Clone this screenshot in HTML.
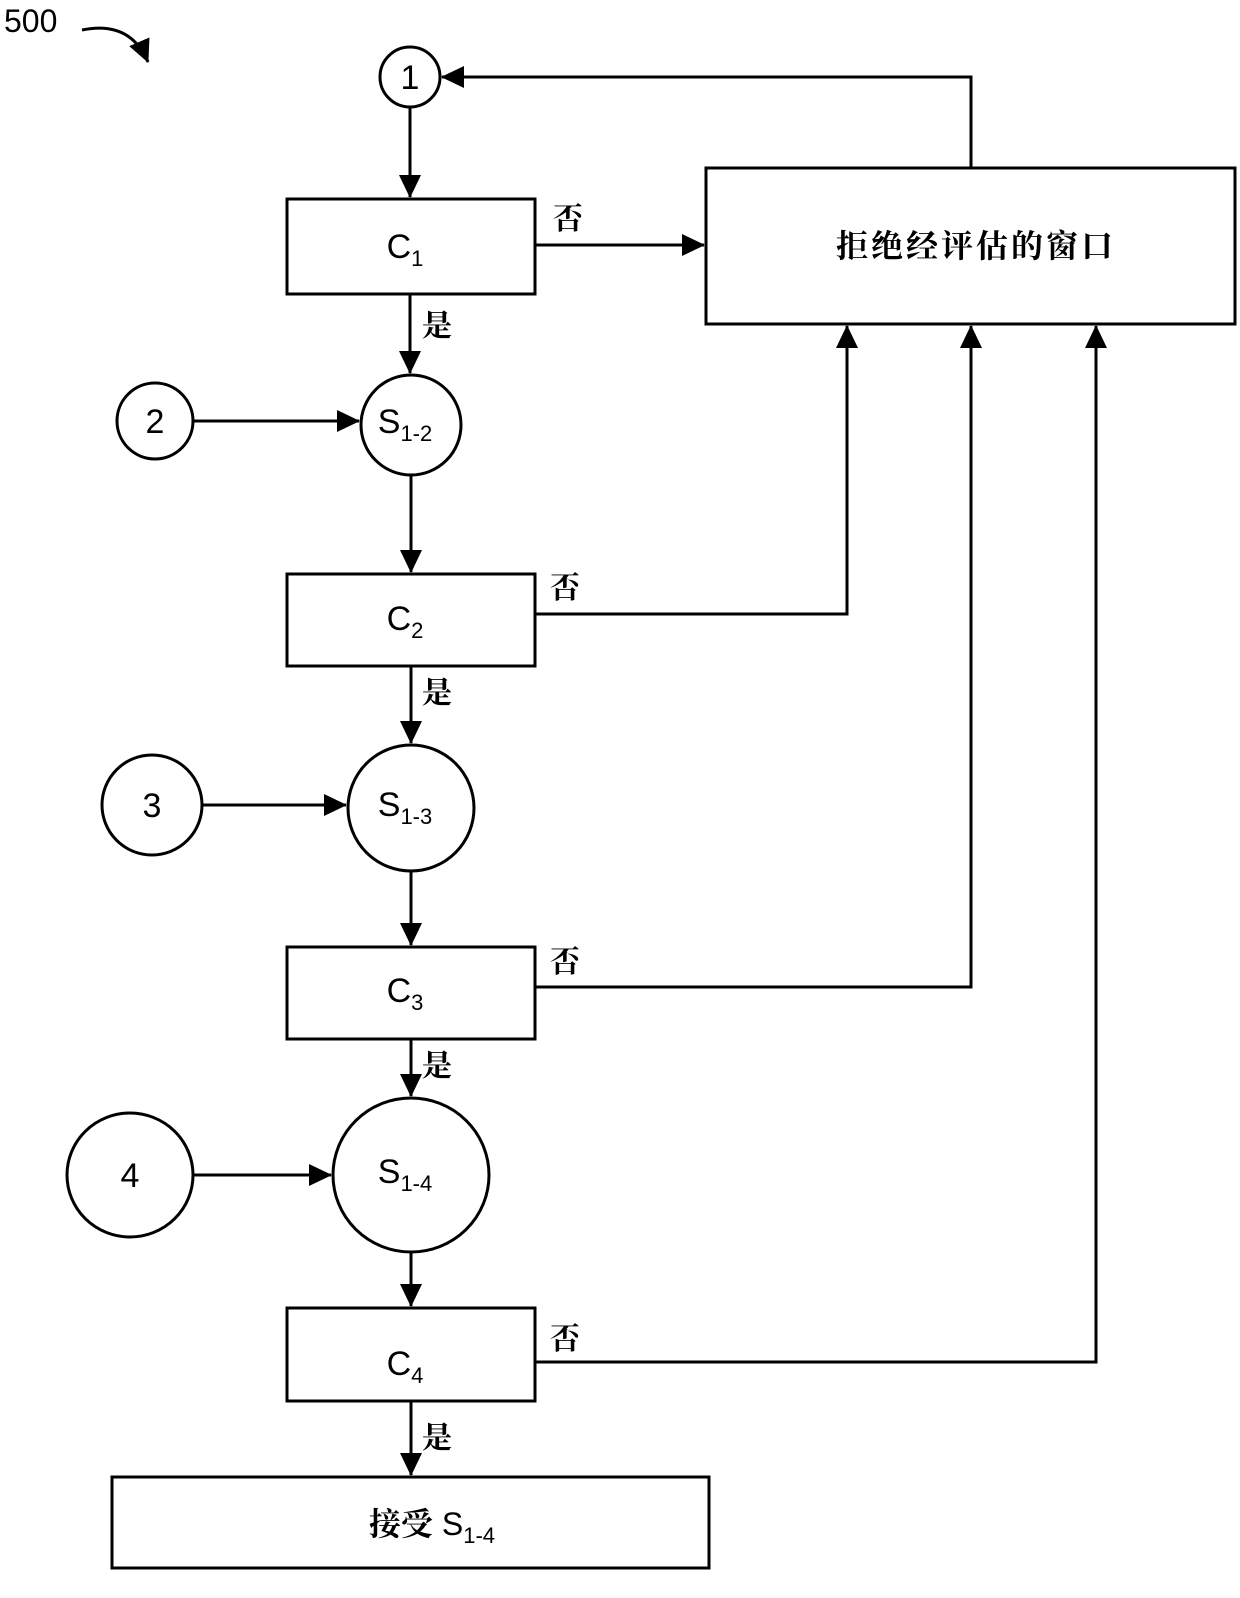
<!DOCTYPE html>
<html><head><meta charset="utf-8"><style>body{margin:0;background:#fff}</style></head><body>
<svg width="1240" height="1593" viewBox="0 0 1240 1593" xmlns="http://www.w3.org/2000/svg" font-family="Liberation Sans, Noto Sans CJK SC, sans-serif">
<defs><marker id="b" markerWidth="24" markerHeight="22" refX="22" refY="11" orient="auto" markerUnits="userSpaceOnUse"><path d="M0,0 L23,11 L0,22 z" fill="#000"/></marker></defs>
<g stroke="#000" stroke-width="3" fill="none">
<text x="4" y="32" font-size="32" fill="#000" stroke="none">500</text>
<path d="M82,30 Q130,20 148,62" stroke-width="3" marker-end="url(#b)"/>
<ellipse cx="410" cy="77" rx="30" ry="30" fill="#fff"/>
<rect x="287" y="199" width="248" height="95" fill="#fff"/>
<rect x="706" y="168" width="529" height="156" fill="#fff"/>
<ellipse cx="155" cy="421" rx="38" ry="38"/>
<ellipse cx="411" cy="425" rx="50" ry="50"/>
<rect x="287" y="574" width="248" height="92"/>
<ellipse cx="152" cy="805" rx="50" ry="50"/>
<ellipse cx="411" cy="808" rx="63" ry="63"/>
<rect x="287" y="947" width="248" height="92"/>
<ellipse cx="130" cy="1175" rx="63" ry="62"/>
<ellipse cx="411" cy="1175" rx="78" ry="77"/>
<rect x="287" y="1308" width="248" height="93"/>
<rect x="112" y="1477" width="597" height="91"/>
<path d="M410,107 V197" marker-end="url(#b)"/>
<path d="M410,294 V373" marker-end="url(#b)"/>
<path d="M411,475 V572" marker-end="url(#b)"/>
<path d="M411,666 V743" marker-end="url(#b)"/>
<path d="M411,871 V945" marker-end="url(#b)"/>
<path d="M411,1039 V1096" marker-end="url(#b)"/>
<path d="M411,1252 V1306" marker-end="url(#b)"/>
<path d="M411,1401 V1475" marker-end="url(#b)"/>
<path d="M193,421 H359" marker-end="url(#b)"/>
<path d="M202,805 H346" marker-end="url(#b)"/>
<path d="M193,1175 H331" marker-end="url(#b)"/>
<path d="M535,245 H704" marker-end="url(#b)"/>
<path d="M535,614 H847 V326" marker-end="url(#b)"/>
<path d="M535,987 H971 V326" marker-end="url(#b)"/>
<path d="M535,1362 H1096 V326" marker-end="url(#b)"/>
<path d="M971,168 V77 H442" marker-end="url(#b)"/>
</g>
<g fill="#000" font-size="34" text-anchor="middle">
<text x="410" y="89">1</text>
<text x="155" y="433">2</text>
<text x="152" y="817">3</text>
<text x="130" y="1187">4</text>
<text x="405" y="258">C<tspan font-size="22" dy="8">1</tspan></text>
<text x="405" y="630">C<tspan font-size="22" dy="8">2</tspan></text>
<text x="405" y="1002">C<tspan font-size="22" dy="8">3</tspan></text>
<text x="405" y="1375">C<tspan font-size="22" dy="8">4</tspan></text>
<text x="405" y="433">S<tspan font-size="22" dy="8">1-2</tspan></text>
<text x="405" y="816">S<tspan font-size="22" dy="8">1-3</tspan></text>
<text x="405" y="1183">S<tspan font-size="22" dy="8">1-4</tspan></text>
<text x="976" y="257" font-size="32" font-family="Noto Serif CJK SC, serif" font-weight="bold" letter-spacing="3">拒绝经评估的窗口</text>
<text x="432" y="1535" font-size="32"><tspan font-family="Noto Serif CJK SC, serif" font-weight="bold">接受</tspan> S<tspan font-size="22" dy="8">1-4</tspan></text>
<g font-size="30" text-anchor="start" font-family="Noto Serif CJK SC, serif" font-weight="bold">
<text x="553" y="229">否</text><text x="550" y="598">否</text><text x="550" y="972">否</text><text x="550" y="1349">否</text>
<text x="422" y="336">是</text><text x="422" y="703">是</text><text x="422" y="1076">是</text><text x="422" y="1448">是</text>
</g></g>
</svg>
</body></html>
